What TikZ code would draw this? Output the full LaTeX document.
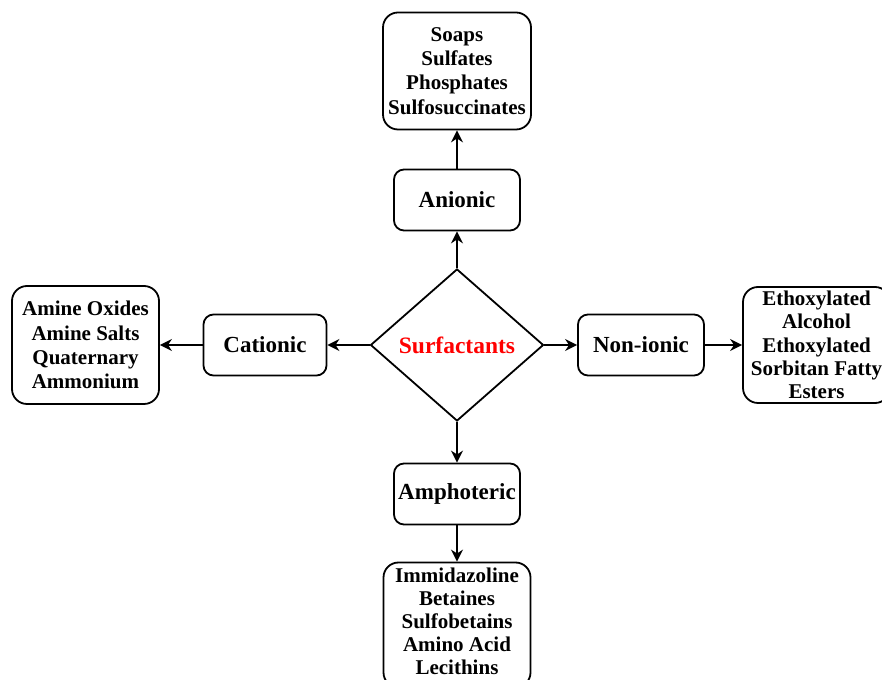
\documentclass[tikz,border=0pt]{standalone}
\usepackage{fontspec}
\setmainfont{Liberation Serif}
\usetikzlibrary{shapes.geometric}
\usetikzlibrary{arrows.meta}

\begin{document}
\begin{tikzpicture}[%
x=1pt, y=1pt,
>={Stealth[length=12pt, width=12pt]},
kozep/.style={diamond, draw, line width=1.8pt, inner sep=0pt, minimum width=173pt, minimum height=152pt, text=red, font=\fontsize{23.5}{26}\selectfont\bfseries},
fajta/.style={draw, line width=1.8pt, rounded corners=10pt, minimum width=126pt, minimum height=61pt, font=\fontsize{23}{26}\selectfont\bfseries},
lista/.style={draw, line width=1.8pt, rounded corners=15pt, align=center, inner sep=1pt, font=\fontsize{21}{24.3}\selectfont\bfseries},
nyil/.style={->, line width=2.4pt},
]

\clip (0,0) rectangle (882,679);
\fill[white] (0,0) rectangle (882,679);

% kozepso rombusz
\node[kozep](surf) at (457,334){Surfactants};

% felso ag
\node[fajta](anion) at (457,479){Anionic};
\node[lista, minimum width=148pt, minimum height=117pt](anionlista) at (457,608)
  {Soaps\\Sulfates\\Phosphates\\Sulfosuccinates};
\draw[nyil] (surf.north)--(anion.south);
\draw[nyil] (anion.north)--(anionlista.south);

% bal ag
\node[fajta, minimum width=123pt](cation) at (265,334){Cationic};
\node[lista, minimum width=147pt, minimum height=118pt](cationlista) at (85.5,334)
  {Amine Oxides\\Amine Salts\\Quaternary\\Ammonium};
\draw[nyil] (surf.west)--(cation.east);
\draw[nyil] (cation.west)--(cationlista.east);

% jobb ag
\node[fajta](nonion) at (641,334){Non-ionic};
\node[lista, minimum width=147pt, minimum height=116pt, font=\fontsize{21}{23.2}\selectfont\bfseries](nonionlista) at (816.5,334)
  {Ethoxylated\\Alcohol\\Ethoxylated\\Sorbitan Fatty\\Esters};
\draw[nyil] (surf.east)--(nonion.west);
\draw[nyil] (nonion.east)--(nonionlista.west);

% also ag
\node[fajta](ampho) at (457,185){Amphoteric};
\node[lista, minimum width=147pt, minimum height=125pt, font=\fontsize{21}{23}\selectfont\bfseries](ampholista) at (457,54)
  {Immidazoline\\Betaines\\Sulfobetains\\Amino Acid\\Lecithins\\[-15pt]};
\draw[nyil] (surf.south)--(ampho.north);
\draw[nyil] (ampho.south)--(ampholista.north);

\end{tikzpicture}
\end{document}
